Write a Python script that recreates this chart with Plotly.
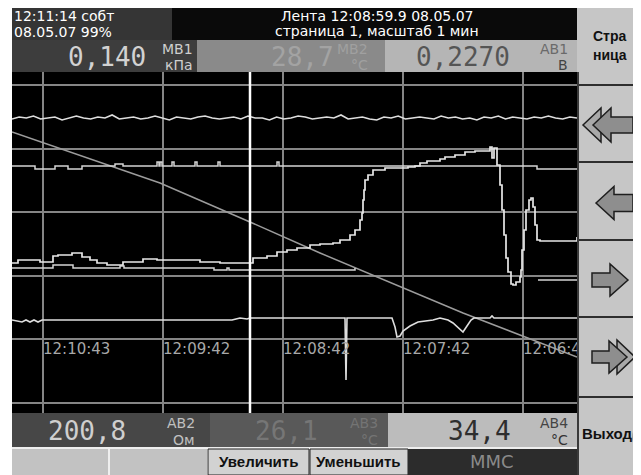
import numpy as np
import plotly.graph_objects as go

# ---------------- DATA (x: samples, 2 per second; y: screen units) ----------------
time_ticks = [31, 151, 271, 391, 511]
time_labels = ["12:10:43", "12:09:42", "12:08:42", "12:07:42", "12:06:42"]
cursor_x = 238

noise_vals = [294,296,295,297,294,295,296,293,295,297,295,294,296,295,298,294,295,296,294,295,
              297,295,293,296,295,294,296,297,295,294,295,296,294,297,295,295,293,296,294,295,
              297,296,294,295,296,295,298,294,295,296,294,293,296,295,297,294,295,296,295,294,
              297,295,296,294,295,293,296,295,297,294,296,295,294,296,295,297,295,294,296,295]

diag_x = [0, 148, 238, 308, 451, 515, 565]
diag_y = [281, 230, 191, 160, 100, 75, 56]

line2_x = [0, 23, 43, 56, 70, 103, 111, 145, 147, 148, 150, 160, 162, 183, 185, 206, 208, 265, 267, 525, 565]
line2_y = [247, 244, 247, 244, 247, 249, 247, 251, 247, 251, 247, 251, 247, 251, 247, 251, 247, 251, 247, 244, 244]

main_x = [0, 6, 28, 41, 46, 60, 70, 78, 85, 95, 111, 131, 145, 188, 208, 241, 255, 265, 275, 285,
          298, 308, 321, 328, 338, 343, 348, 350, 351, 352, 353, 356, 361, 373, 388, 396, 403, 408,
          415, 428, 433, 443, 453, 463, 473, 476, 478, 480, 482, 485, 488, 490, 492, 494, 496, 499,
          501, 504, 508, 509, 510, 512, 514, 517, 519, 521, 523, 525, 528, 563, 565]
main_y = [150, 153, 151, 157, 158, 160, 156, 153, 150, 148, 151, 154, 153, 151, 150, 155, 157, 161, 163, 165,
          168, 169, 170, 173, 178, 183, 193, 200, 213, 223, 233, 238, 243, 245, 245, 246, 247, 250,
          252, 254, 256, 258, 261, 262, 262, 262, 266, 255, 265, 248, 228, 203, 178, 155, 141, 129,
          128, 131, 136, 143, 163, 183, 203, 213, 215, 206, 188, 173, 172, 172, 176]

line4_x = [0, 40, 41, 60, 61, 100, 108, 112, 200, 202, 215, 217, 343, None, 526, 565]
line4_y = [145, 145, 148, 148, 145, 145, 147, 145, 145, 143, 145, 143, 145, None, 133, 133]

low_x = [0, 10, 14, 18, 22, 26, 30, 38, 220, 228, 235, 238, 333, 334, 335, 380, 383, 385, 388, 391,
         398, 406, 413, 421, 428, 436, 441, 446, 451, 455, 459, 462, 478, 480, 482, 565]
low_y = [93, 91, 93, 91, 93, 91, 93, 93, 93, 95, 94, 95, 95, 33, 95, 95, 86, 76, 77, 82,
         87, 91, 92, 93, 95, 93, 90, 85, 81, 87, 93, 95, 95, 97, 95, 95]

# ---------------- helpers for the surrounding device UI ----------------
# The page body keeps an 8 px margin, so the figure covers page pixels 8..641 x 8..475.
OFF = 8
W, H = 641 - OFF, 475 - OFF
def X(px): return (px - OFF) / W
def Y(py): return 1 - (py - OFF) / H

shapes = []
annotations = []

def rect(x0, y0, x1, y1, color, line=None, lw=0):
    shapes.append(dict(type="rect", xref="paper", yref="paper",
                       x0=X(x0), x1=X(x1), y0=Y(y1), y1=Y(y0),
                       fillcolor=color, line=dict(color=line or color, width=lw)))

def text(px, py, s, size, color, xanchor="center", family="DejaVu Sans", bold=False):
    if bold:
        s = "<b>" + s + "</b>"
    annotations.append(dict(x=X(px), y=Y(py), xref="paper", yref="paper", text=s,
                            showarrow=False, xanchor=xanchor, yanchor="middle",
                            font=dict(size=size, color=color, family=family)))

def poly(pts, fill, line="#1e1e1e"):
    d = "M " + " L ".join(f"{X(a):.5f},{Y(b):.5f}" for a, b in pts) + " Z"
    shapes.append(dict(type="path", xref="paper", yref="paper", path=d,
                       fillcolor=fill, line=dict(color=line, width=1.5)))

def arrow(tip, cy, direction, head_len=18, head_h=17, shaft_h=8, length=40, fill="#8e8e8e"):
    s = direction
    hb = tip + s * head_len
    tail = tip + s * length
    poly([(tip, cy), (hb, cy - head_h), (hb, cy - shaft_h), (tail, cy - shaft_h),
          (tail, cy + shaft_h), (hb, cy + shaft_h), (hb, cy + head_h)], fill)

def head(tip, cy, direction, head_len=18, head_h=17, fill="#a9a9a9"):
    hb = tip + direction * head_len
    poly([(tip, cy), (hb, cy - head_h), (hb, cy + head_h)], fill)

# header
rect(12, 8, 172, 40, "#353535")
rect(172, 8, 577, 40, "#0a0a0a")
rect(12, 40, 197, 72, "#3d3d3d")
rect(197, 40, 385, 72, "#8a8a8a")
rect(385, 40, 577, 72, "#b5b5b5")
# bottom values row
rect(12, 413, 210, 447, "#474747")
rect(210, 413, 388, 447, "#595959")
rect(388, 413, 577, 447, "#bcbcbc")
# bottom buttons
rect(12, 447, 577, 449, "#eeeeee")
rect(12, 449, 108, 475, "#c2c2c2")
rect(108, 449, 110, 475, "#efefef")
rect(110, 449, 207, 475, "#c2c2c2")
rect(208, 449, 309, 475, "#d2d2d2", line="#222222", lw=1)
rect(310, 449, 408, 475, "#d2d2d2", line="#222222", lw=1)
rect(408, 449, 577, 475, "#2c2c2c")
# right button column
rect(577, 8, 641, 475, "#c6c6c6")
for yy in [85, 162, 240, 317, 397]:
    rect(577, yy - 1, 641, yy + 1, "#2e2e2e")
rect(577, 72, 579, 475, "#3a3a3a")
shapes.append(dict(type="circle", xref="paper", yref="paper", x0=X(632), x1=X(660),
                   y0=Y(451), y1=Y(423), fillcolor="#9a9a9a", line=dict(width=0)))

# arrows
head(583, 125, 1)
arrow(593, 125, 1, length=40)
arrow(596, 203, 1, head_h=16.5, shaft_h=8.5, length=37)
arrow(628, 280, -1, head_h=16, shaft_h=7, length=36)
head(635, 357, -1)
arrow(627, 357, -1, head_h=16, shaft_h=6, length=35)

# header texts
text(12, 16, "12:11:14 собт", 14, "white", xanchor="left")
text(12, 32, "08.05.07 99%", 14, "white", xanchor="left")
text(377, 16, "Лента 12:08:59.9 08.05.07", 14, "white")
text(377, 31, "страница 1, масштаб 1 мин", 14, "white")
mono = "DejaVu Sans Mono"
text(148, 57, "0,140", 26, "#d2d2d2", xanchor="right", family=mono)
text(195, 49, "МВ1", 14, "#cfcfcf", xanchor="right")
text(195, 65, "кПа", 14, "#cfcfcf", xanchor="right")
text(336, 57, "28,7", 26, "#a3a3a3", xanchor="right", family=mono)
text(370, 49, "МВ2", 14, "#a0a0a0", xanchor="right")
text(370, 65, "°C", 14, "#a0a0a0", xanchor="right")
text(512, 57, "0,2270", 26, "#555555", xanchor="right", family=mono)
text(570, 49, "АВ1", 14, "#6a6a6a", xanchor="right")
text(570, 65, "В", 14, "#444444", xanchor="right")
text(610, 36, "Стра", 14, "#111111", bold=True, family="Liberation Sans")
text(610, 55, "ница", 14, "#111111", bold=True, family="Liberation Sans")
# bottom texts
text(128, 431, "200,8", 26, "#cfcfcf", xanchor="right", family=mono)
text(197, 423, "АВ2", 14, "#c0c0c0", xanchor="right")
text(197, 440, "Ом", 14, "#c0c0c0", xanchor="right")
text(320, 431, "26,1", 26, "#767676", xanchor="right", family=mono)
text(380, 423, "АВ3", 14, "#747474", xanchor="right")
text(380, 440, "°C", 14, "#747474", xanchor="right")
text(513, 431, "34,4", 26, "#2e2e2e", xanchor="right", family=mono)
text(570, 423, "АВ4", 14, "#444444", xanchor="right")
text(570, 440, "°C", 14, "#333333", xanchor="right")
text(580, 433, "Выход", 15, "#111111", xanchor="left", bold=True, family="Liberation Sans")
text(258, 461, "Увеличить", 15, "#111111", bold=True, family="Liberation Sans")
text(359, 461, "Уменьшить", 15, "#111111", bold=True, family="Liberation Sans")
text(492, 461, "MMC", 18, "#8a8a8a")

# ---------------- traces ----------------
fig = go.Figure()
noise_x = np.linspace(0, 565, len(noise_vals))
tr = dict(color="#dedede", width=1.6)
fig.add_trace(go.Scatter(x=noise_x, y=noise_vals, mode="lines", line=tr))
fig.add_trace(go.Scatter(x=diag_x, y=diag_y, mode="lines", line=dict(color="#9c9c9c", width=1.5)))
fig.add_trace(go.Scatter(x=line2_x, y=line2_y, mode="lines", line=dict(color="#d4d4d4", width=1.5, shape="hv")))
fig.add_trace(go.Scatter(x=line4_x, y=line4_y, mode="lines", line=dict(color="#d4d4d4", width=1.5, shape="hv")))
fig.add_trace(go.Scatter(x=low_x, y=low_y, mode="lines", line=tr))
fig.add_trace(go.Scatter(x=main_x, y=main_y, mode="lines", line=dict(color="#e8e8e8", width=1.7, shape="hv")))
fig.add_trace(go.Scatter(x=[cursor_x, cursor_x], y=[0, 341], mode="lines", line=dict(color="white", width=2.5)))
fig.add_trace(go.Scatter(x=time_ticks, y=[63] * 5, mode="text", text=time_labels,
                         textposition="middle right", cliponaxis=True,
                         textfont=dict(size=15, color="#a8a8a8", family="DejaVu Sans")))

fig.update_layout(width=W, height=H, margin=dict(l=0, r=0, t=0, b=0),
                  paper_bgcolor="white", plot_bgcolor="black", showlegend=False,
                  shapes=shapes, annotations=annotations,
                  xaxis=dict(domain=[X(12), X(577)], range=[0, 565], tick0=31, dtick=120,
                             showgrid=True, gridcolor="#858585", gridwidth=1.5,
                             showticklabels=False, zeroline=False, showline=False, ticks=""),
                  yaxis=dict(domain=[Y(413), Y(72)], range=[0, 341], tick0=10, dtick=63.6,
                             showgrid=True, gridcolor="#858585", gridwidth=1.5,
                             showticklabels=False, zeroline=False, showline=False, ticks=""))
fig.write_html("out.html")
